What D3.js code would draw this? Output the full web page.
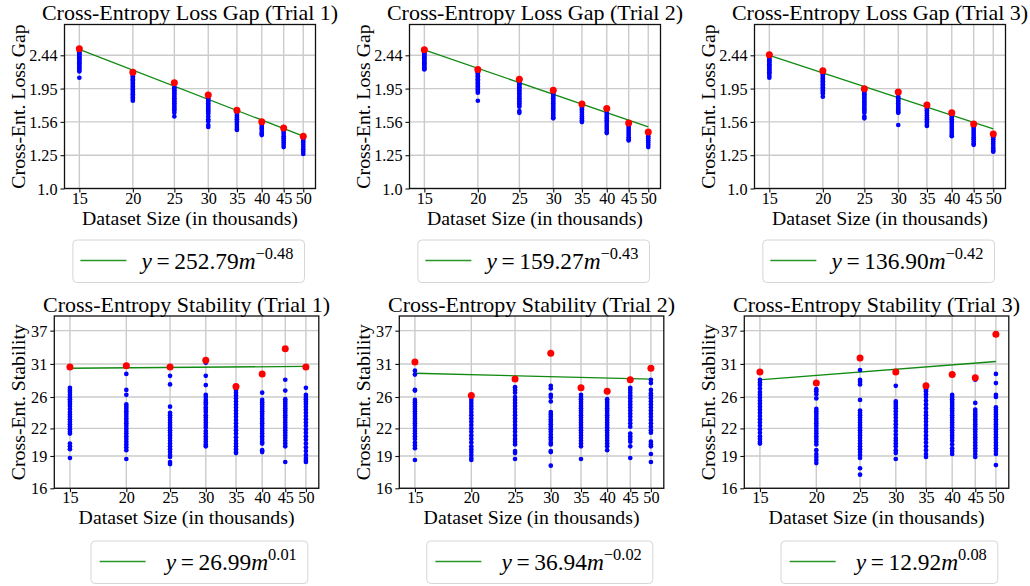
<!DOCTYPE html>
<html><head><meta charset="utf-8">
<script src="https://cdn.jsdelivr.net/npm/d3@7"></script>
<style>
body{margin:0;background:#fff}
svg{display:block}
text{font-family:"Liberation Serif","Times New Roman",serif;fill:#000}
</style>
</head><body><svg id="c" width="1030" height="586"></svg>
<script>
// ---------- data ----------
const sizes = [15, 20, 25, 30, 35, 40, 45, 50];

const lossTicks = [1.0, 1.25, 1.5625, 1.953, 2.441];
const lossTickLabels = ["1.0", "1.25", "1.56", "1.95", "2.44"];
const stabTicks = [16, 19, 22, 26, 31, 37];
const stabTickLabels = ["16", "19", "22", "26", "31", "37"];

const lossTitles = ["Cross-Entropy Loss Gap (Trial 1)", "Cross-Entropy Loss Gap (Trial 2)", "Cross-Entropy Loss Gap (Trial 3)"];
const stabTitles = ["Cross-Entropy Stability (Trial 1)", "Cross-Entropy Stability (Trial 2)", "Cross-Entropy Stability (Trial 3)"];

const lossBlue1 = [
  [2.53,2.51,2.49,2.47,2.45,2.43,2.41,2.39,2.37,2.35,2.33,2.31,2.29,2.27,2.25,2.23,2.21,2.19,2.10],
  [2.14,2.12,2.10,2.08,2.06,2.04,2.02,2.00,1.98,1.96,1.94,1.92,1.90,1.88,1.86,1.84,1.82,1.80],
  [1.97,1.95,1.93,1.91,1.89,1.87,1.85,1.83,1.81,1.79,1.77,1.75,1.73,1.71,1.69,1.66,1.62],
  [1.83,1.81,1.79,1.77,1.75,1.73,1.71,1.69,1.67,1.65,1.62,1.59,1.57,1.53,1.51],
  [1.67,1.65,1.63,1.61,1.59,1.57,1.55,1.53,1.51,1.49,1.48],
  [1.55,1.54,1.52,1.50,1.49,1.47,1.45,1.44,1.43],
  [1.48,1.46,1.44,1.42,1.40,1.38,1.36,1.34,1.32],
  [1.40,1.38,1.36,1.34,1.32,1.30,1.28,1.26]
];
const lossRed1 = [2.55, 2.18, 2.03, 1.87, 1.69, 1.565, 1.50, 1.42];
const lossFit1 = [2.54, 1.42];

const lossBlue2 = [
  [2.49,2.47,2.45,2.43,2.41,2.39,2.37,2.35,2.33,2.31,2.29,2.27,2.25,2.23,2.22],
  [2.18,2.16,2.14,2.12,2.10,2.08,2.06,2.04,2.02,2.00,1.98,1.96,1.94,1.92,1.90,1.80],
  [2.05,2.03,2.01,1.99,1.97,1.95,1.93,1.91,1.89,1.87,1.85,1.83,1.81,1.79,1.77,1.75,1.73,1.68,1.66],
  [1.89,1.87,1.85,1.83,1.81,1.79,1.77,1.75,1.73,1.71,1.69,1.67,1.65,1.63,1.61,1.60],
  [1.72,1.70,1.68,1.66,1.64,1.62,1.60,1.58,1.56],
  [1.66,1.64,1.62,1.60,1.58,1.56,1.54,1.52,1.50,1.48,1.46,1.45],
  [1.53,1.51,1.49,1.47,1.45,1.43,1.41,1.39,1.38],
  [1.44,1.42,1.40,1.38,1.36,1.34,1.32]
];
const lossRed2 = [2.535, 2.22, 2.08, 1.93, 1.76, 1.71, 1.55, 1.46];
const lossFit2 = [2.53, 1.51];

const lossBlue3 = [
  [2.42,2.40,2.38,2.36,2.34,2.32,2.30,2.28,2.26,2.24,2.22,2.20,2.18,2.16,2.13,2.10],
  [2.17,2.15,2.13,2.11,2.09,2.07,2.05,2.03,2.01,1.99,1.97,1.95,1.93,1.91,1.89,1.85],
  [1.92,1.90,1.88,1.86,1.84,1.82,1.80,1.78,1.76,1.74,1.72,1.70,1.68,1.66,1.62,1.60],
  [1.85,1.83,1.81,1.79,1.77,1.75,1.73,1.71,1.69,1.67,1.66,1.53],
  [1.71,1.69,1.67,1.65,1.63,1.61,1.59,1.57,1.55,1.53,1.52],
  [1.63,1.61,1.59,1.57,1.55,1.53,1.51,1.49,1.47,1.45,1.43,1.42],
  [1.51,1.49,1.47,1.45,1.43,1.41,1.39,1.37,1.35,1.34],
  [1.41,1.39,1.37,1.35,1.33,1.31,1.29,1.28]
];
const lossRed3 = [2.45, 2.20, 1.95, 1.91, 1.75, 1.66, 1.54, 1.44];
const lossFit3 = [2.44, 1.49];

const stabBlue1 = [
  [27.3,27.0,26.7,26.3,26.0,25.7,25.4,25.1,24.8,24.4,24.0,23.7,23.4,23.1,22.8,22.5,22.2,21.9,21.6,21.4,20.3,20.0,19.7,18.8],
  [29.4,27.0,26.3,25.0,24.7,24.4,24.1,23.8,23.5,23.2,22.9,22.6,22.3,22.0,21.7,21.4,21.1,20.8,20.5,20.2,19.9,19.6,18.7],
  [29.1,27.8,24.7,23.9,23.6,23.3,23.0,22.7,22.4,22.1,21.8,21.5,21.2,20.9,20.6,20.3,20.0,19.7,19.4,19.1,18.9,18.4,18.2],
  [31.2,29.1,27.7,26.3,26.0,25.6,25.3,25.0,24.6,24.3,24.0,23.6,23.3,23.0,22.7,22.4,22.1,21.7,21.4,21.1,20.8,20.5,20.2,20.0],
  [27.0,26.6,26.2,25.8,25.4,25.0,24.6,24.2,23.8,23.4,23.0,22.6,22.2,21.8,21.4,21.0,20.6,20.3,20.0,19.7,19.4,19.3],
  [26.6,25.6,25.3,25.0,24.7,24.4,24.1,23.8,23.5,23.2,22.9,22.6,22.3,22.0,21.7,21.4,21.1,20.8,20.5,20.3,19.6,19.4],
  [28.5,26.9,25.7,25.4,25.1,24.8,24.5,24.2,23.9,23.6,23.3,23.0,22.7,22.4,22.1,21.8,21.5,21.2,20.9,20.6,20.3,20.0,18.4],
  [27.3,26.3,26.0,25.7,25.4,25.1,24.7,24.3,23.9,23.5,23.1,22.7,22.3,21.9,21.5,21.1,20.7,20.3,19.9,19.5,19.1,18.8,18.6,18.4]
];
const stabRed1 = [30.5, 30.7, 30.5, 31.6, 27.5, 29.4, 33.6, 30.5];
const stabFit1 = [30.3, 30.6];

const stabBlue2 = [
  [29.9,29.3,27.0,26.9,25.6,25.3,25.0,24.7,24.4,24.1,23.8,23.5,23.2,22.9,22.6,22.3,22.0,21.7,21.4,21.1,20.8,20.4,20.1,19.8,18.6],
  [25.6,25.2,24.8,24.4,24.0,23.6,23.2,22.8,22.4,22.0,21.6,21.2,20.8,20.4,20.0,19.7,19.4,19.1,18.8,18.6],
  [27.4,27.0,26.6,26.0,25.6,25.2,24.8,24.4,24.0,23.6,23.2,22.8,22.4,22.0,21.6,21.2,20.8,20.5,20.2,19.5,19.3,18.7],
  [27.6,27.2,26.3,26.0,25.4,24.0,23.7,23.4,23.1,22.8,22.5,22.2,21.9,21.6,21.3,21.0,20.7,20.4,20.2,19.5,19.4,18.05],
  [26.3,26.0,25.7,25.4,25.1,24.8,24.5,24.2,23.9,23.6,23.3,23.0,22.7,22.4,22.1,21.8,21.5,21.2,20.9,20.6,20.3,20.0,18.7],
  [25.7,25.4,25.1,24.8,24.5,24.2,23.9,23.6,23.3,23.0,22.7,22.4,22.1,21.8,21.5,21.2,20.9,20.6,20.3,20.0,19.6],
  [27.3,27.0,26.6,26.2,25.8,25.4,25.0,24.6,24.2,23.8,23.4,23.0,22.6,22.2,21.4,21.1,20.8,20.5,20.0,18.8],
  [28.5,28.0,27.0,26.5,26.2,25.8,25.4,25.0,24.6,24.2,23.8,23.4,23.0,22.6,22.2,21.8,21.5,20.5,20.2,20.0,19.2,18.4]
];
const stabRed2 = [31.3, 26.2, 28.6, 32.8, 27.3, 26.8, 28.5, 30.3];
const stabFit2 = [29.5, 28.6];

const stabBlue3 = [
  [28.5,28.1,27.7,27.2,26.7,26.3,25.9,25.5,25.1,24.7,24.3,23.9,23.5,23.1,22.7,22.3,21.9,21.5,21.1,20.8,20.5,20.3],
  [27.1,26.8,26.4,25.8,24.4,24.1,23.8,23.5,23.2,22.9,22.6,22.3,22.0,21.7,21.4,21.1,20.8,20.5,20.2,19.6,19.2,18.9,18.6,18.3],
  [30.0,28.5,28.2,27.8,25.6,24.2,23.9,23.6,23.3,23.0,22.7,22.4,22.1,21.8,21.5,21.2,20.9,20.6,20.3,20.0,19.7,19.4,19.1,18.8,17.8,17.2],
  [27.6,25.4,25.1,24.8,24.5,24.1,23.7,23.3,22.9,22.5,22.1,21.7,21.3,20.9,20.6,20.3,20.0,19.6,19.3,18.7],
  [27.1,26.8,26.4,26.0,25.5,25.0,24.5,24.0,23.6,23.2,22.8,22.4,22.0,21.6,21.2,20.8,20.4,20.0,19.6,19.2,18.9],
  [26.3,26.0,25.7,25.4,25.1,24.8,24.5,24.2,23.9,23.6,23.3,23.0,22.7,22.4,22.1,21.8,21.5,21.2,20.9,20.6,20.2,19.8,19.5,19.2],
  [28.5,25.2,24.3,24.0,23.7,23.4,23.1,22.8,22.5,22.2,21.9,21.6,21.3,21.0,20.7,20.4,20.1,19.8,19.5,19.2,18.9],
  [29.4,28.0,26.3,26.0,24.6,24.3,24.0,23.7,23.4,23.1,22.8,22.5,22.2,21.9,21.6,21.3,21.0,20.7,20.4,20.1,19.8,19.5,19.2,18.1]
];
const stabRed3 = [29.7, 28.0, 32.0, 29.7, 27.6, 29.3, 28.8, 36.3];
const stabFit3 = [28.5, 31.4];

const lossCoef = ["252.79", "159.27", "136.90"];
const lossExp = ["\u22120.48", "\u22120.43", "\u22120.42"];
const stabCoef = ["26.99", "36.94", "12.92"];
const stabExp = ["0.01", "\u22120.02", "0.08"];

// ---------- drawing ----------
const svg = d3.select("#c");
const xDomain = [13.85, 53.4];

function drawPanel(p) {
  const g = svg.append("g");
  const x = d3.scaleLog().domain(xDomain).range([p.left, p.left + p.width]);
  const y = d3.scaleLog().domain(p.yDomain).range([p.top + p.height, p.top]);
  const bottom = p.top + p.height;

  // grid
  g.append("g").selectAll("line").data(sizes).join("line")
    .attr("x1", d => x(d)).attr("x2", d => x(d))
    .attr("y1", p.top).attr("y2", bottom)
    .attr("stroke", "#cbcbcb").attr("stroke-width", 1.4);
  g.append("g").selectAll("line").data(p.yTicks).join("line")
    .attr("y1", d => y(d)).attr("y2", d => y(d))
    .attr("x1", p.left).attr("x2", p.left + p.width)
    .attr("stroke", "#cbcbcb").attr("stroke-width", 1.4);

  // fit line
  const ends = [sizes[0], sizes[sizes.length - 1]];
  g.append("path").datum(p.fit)
    .attr("d", d3.line().x((d, i) => x(ends[i])).y(d => y(d)))
    .attr("fill", "none").attr("stroke", "#108a10").attr("stroke-width", 1.3);

  // blue points
  const pts = p.blue.flatMap((col, i) => col.map(v => [sizes[i], v]));
  g.append("g").selectAll("circle").data(pts).join("circle")
    .attr("cx", d => x(d[0])).attr("cy", d => y(d[1])).attr("r", 2.35)
    .attr("fill", "#0000ff");
  // red points
  g.append("g").selectAll("circle").data(p.red).join("circle")
    .attr("cx", (d, i) => x(sizes[i])).attr("cy", d => y(d)).attr("r", 3.5)
    .attr("fill", "#ff0000");

  // frame
  g.append("rect").attr("x", p.left).attr("y", p.top)
    .attr("width", p.width).attr("height", p.height)
    .attr("fill", "none").attr("stroke", "#111").attr("stroke-width", 1.3);

  // axes
  const ax = g.append("g").attr("transform", `translate(0,${bottom})`)
    .call(d3.axisBottom(x).tickValues(sizes).tickFormat(d3.format("d")).tickSize(4).tickSizeOuter(0).tickPadding(3));
  ax.attr("font-family", null).attr("font-size", null);
  ax.select(".domain").remove();
  ax.selectAll(".tick line").attr("stroke", "#111").attr("stroke-width", 1.1);
  ax.selectAll("text").attr("font-size", 16.2).attr("y", 15.2).attr("dy", 0).attr("fill", "#000");

  const ay = g.append("g").attr("transform", `translate(${p.left},0)`)
    .call(d3.axisLeft(y).tickValues(p.yTicks).tickFormat((d, i) => p.yTickLabels[i]).tickSize(4).tickSizeOuter(0).tickPadding(3));
  ay.attr("font-family", null).attr("font-size", null);
  ay.select(".domain").remove();
  ay.selectAll(".tick line").attr("stroke", "#111").attr("stroke-width", 1.1);
  ay.selectAll("text").attr("font-size", 16.2).attr("dy", "0.34em").attr("fill", "#000");

  // title and labels
  const cx = p.left + p.width / 2;
  g.append("text").attr("x", cx).attr("y", p.top - 4.2)
    .attr("text-anchor", "middle").attr("font-size", 22).text(p.title);
  g.append("text").attr("x", cx).attr("y", bottom + 36)
    .attr("text-anchor", "middle").attr("font-size", 19.8).text("Dataset Size (in thousands)");
  g.append("text")
    .attr("transform", `translate(${p.left - p.ylabOff},${p.top + p.height / 2}) rotate(-90)`)
    .attr("text-anchor", "middle").attr("font-size", 19.8).text(p.ylabel);

  // legend
  const lg = svg.append("g");
  const t = lg.append("text").attr("font-size", 23.4).attr("y", p.legTop + 28.5);
  t.append("tspan").attr("font-style", "italic").text("y");
  t.append("tspan").text("\u2009=\u2009" + p.coef);
  t.append("tspan").attr("font-style", "italic").text("m");
  t.append("tspan").attr("font-size", 16.4).attr("dy", -9.5).text(p.exp);
  const tw = t.node().getComputedTextLength();
  const right = p.left + p.width - 11;
  const w = p.padL + 46 + p.gap + tw + 11;
  const lx = right - w;
  lg.insert("rect", "text").attr("x", lx).attr("y", p.legTop).attr("width", w).attr("height", 42.5)
    .attr("rx", 4).attr("fill", "#fff").attr("stroke", "#d6d6d6").attr("stroke-width", 1);
  lg.append("line").attr("x1", lx + p.padL).attr("x2", lx + p.padL + 46)
    .attr("y1", p.legTop + 20.5).attr("y2", p.legTop + 20.5)
    .attr("stroke", "#2a962a").attr("stroke-width", 1.3);
  t.attr("x", lx + p.padL + 46 + p.gap);
}

const lossBlues = [lossBlue1, lossBlue2, lossBlue3];
const lossReds = [lossRed1, lossRed2, lossRed3];
const lossFits = [lossFit1, lossFit2, lossFit3];
const stabBlues = [stabBlue1, stabBlue2, stabBlue3];
const stabReds = [stabRed1, stabRed2, stabRed3];
const stabFits = [stabFit1, stabFit2, stabFit3];

[64.5, 409.5, 754.5].forEach((left, i) => drawPanel({
  left, top: 24.5, width: 251, height: 164,
  yDomain: [1.0, 3.0], yTicks: lossTicks, yTickLabels: lossTickLabels,
  title: lossTitles[i], ylabel: "Cross-Ent. Loss Gap", ylabOff: 40,
  blue: lossBlues[i], red: lossReds[i], fit: lossFits[i],
  coef: lossCoef[i], exp: lossExp[i], legTop: 240, padL: 7.5, gap: 15
}));
[54.3, 399.3, 744.3].forEach((left, i) => drawPanel({
  left, top: 316, width: 264.5, height: 172.3,
  yDomain: [16, 40], yTicks: stabTicks, yTickLabels: stabTickLabels,
  title: stabTitles[i], ylabel: "Cross-Ent. Stability", ylabOff: 29,
  blue: stabBlues[i], red: stabReds[i], fit: stabFits[i],
  coef: stabCoef[i], exp: stabExp[i], legTop: 541, padL: 8.6, gap: 20
}));
</script>
</body></html>
